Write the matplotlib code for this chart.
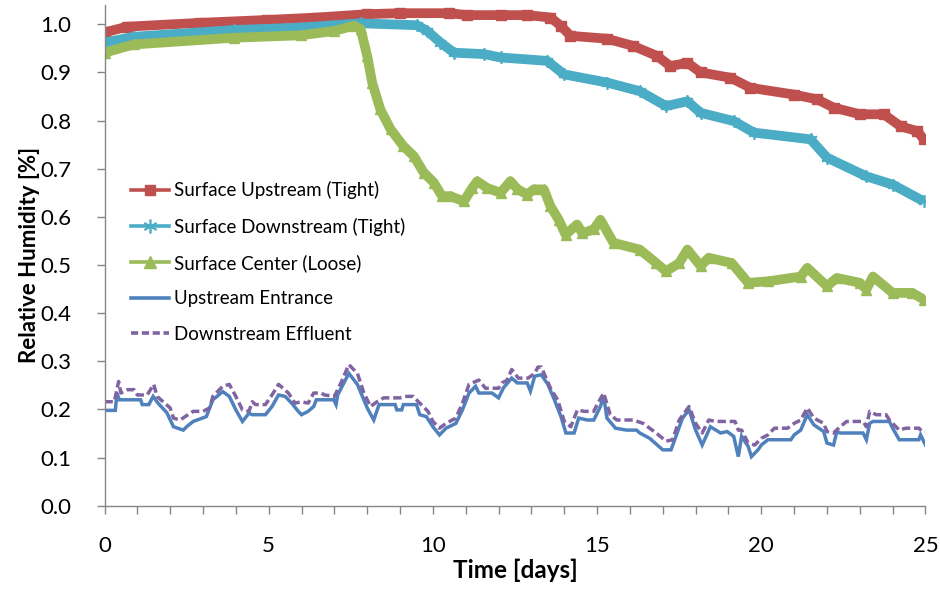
import matplotlib
matplotlib.use("Agg")
import matplotlib.pyplot as plt
from matplotlib.lines import Line2D
from matplotlib.ticker import MultipleLocator, FormatStrFormatter

plt.rcParams['font.family'] = ['Lato', 'DejaVu Sans']

# ---- data: time [days] and relative humidity [-] ----
upstream_t = [0.0, 0.69, 2.92, 4.95, 6.48, 8.0, 9.01, 10.5, 11.04, 12.06, 12.87, 13.58,
              13.89, 14.19, 15.3, 16.1, 16.83, 17.23, 17.75, 18.15, 19.06, 19.67, 20.99,
              21.7, 22.2, 23.0, 23.73, 24.24, 24.75, 24.95]
upstream_rh = [0.983, 0.995, 1.003, 1.009, 1.014, 1.021, 1.023, 1.023, 1.019, 1.019, 1.019, 1.014,
               0.997, 0.976, 0.970, 0.955, 0.934, 0.913, 0.920, 0.900, 0.889, 0.868, 0.854,
               0.844, 0.827, 0.813, 0.813, 0.788, 0.778, 0.761]

downstream_t = [0.0, 0.89, 3.94, 5.97, 7.8, 9.52, 9.83, 10.23, 10.64, 11.55, 12.06, 13.48,
                13.99, 15.3, 16.3, 17.1, 17.75, 18.15, 19.16, 19.77, 21.5, 22.0, 23.2, 24.0, 24.95]
downstream_rh = [0.962, 0.974, 0.988, 0.993, 1.002, 0.998, 0.986, 0.962, 0.941, 0.938, 0.931, 0.924,
                 0.896, 0.879, 0.861, 0.830, 0.840, 0.816, 0.799, 0.775, 0.761, 0.723, 0.684, 0.667, 0.632]

center_t = [0.0, 0.89, 3.94, 5.97, 6.99, 7.59, 7.8, 8.0, 8.15, 8.4, 8.71, 9.1, 9.42, 9.72,
            10.03, 10.28, 10.54, 10.94, 11.2, 11.35, 11.65, 12.06, 12.36, 12.57, 12.87, 13.07,
            13.38, 13.58, 13.83, 14.04, 14.39, 14.55, 14.9, 15.1, 15.5, 16.3, 16.8, 17.1, 17.5,
            17.75, 18.15, 18.4, 19.1, 19.6, 20.2, 21.2, 21.4, 22.0, 22.3, 23.0, 23.2, 23.4,
            24.0, 24.6, 24.95]
center_rh = [0.941, 0.958, 0.972, 0.977, 0.986, 0.997, 0.990, 0.934, 0.879, 0.823, 0.782, 0.747,
             0.726, 0.692, 0.671, 0.643, 0.643, 0.632, 0.660, 0.674, 0.660, 0.650, 0.674, 0.658,
             0.646, 0.657, 0.657, 0.622, 0.594, 0.563, 0.584, 0.566, 0.574, 0.594, 0.546, 0.532,
             0.504, 0.487, 0.504, 0.532, 0.498, 0.515, 0.504, 0.463, 0.466, 0.476, 0.494, 0.456,
             0.473, 0.463, 0.449, 0.476, 0.442, 0.442, 0.428]

entrance_t = [0.0, 0.33, 0.38, 0.45, 1.1, 1.15, 1.35, 1.48, 1.63, 1.9, 2.1, 2.4, 2.5, 2.7, 3.1,
              3.3, 3.6, 3.8, 4.0, 4.2, 4.4, 4.5, 4.9, 5.1, 5.3, 5.5, 5.7, 5.9, 6.0, 6.2, 6.37,
              6.45, 6.98, 7.05, 7.1, 7.44, 7.7, 8.0, 8.2, 8.36, 8.85, 8.9, 9.05, 9.1, 9.5, 9.6,
              9.8, 10.0, 10.2, 10.4, 10.7, 10.9, 11.1, 11.3, 11.4, 11.8, 12.0, 12.15, 12.4, 12.57,
              12.87, 12.97, 13.1, 13.3, 13.5, 13.7, 13.9, 14.05, 14.3, 14.44, 14.7, 14.9, 15.1,
              15.2, 15.3, 15.56, 15.9, 16.2, 16.3, 16.6, 17.0, 17.25, 17.4, 17.6, 17.8, 18.0,
              18.2, 18.45, 18.76, 18.96, 19.16, 19.3, 19.4, 19.6, 19.7, 19.9, 20.0, 20.2, 20.9,
              21.0, 21.2, 21.4, 21.6, 21.9, 22.0, 22.2, 22.3, 22.4, 23.1, 23.2, 23.3, 23.4, 23.9,
              24.0, 24.2, 24.8, 24.85, 25.0]
entrance_rh = [0.198, 0.198, 0.234, 0.220, 0.220, 0.210, 0.210, 0.227, 0.213, 0.193, 0.164, 0.157,
               0.164, 0.175, 0.185, 0.220, 0.237, 0.227, 0.199, 0.175, 0.192, 0.189, 0.189, 0.206,
               0.230, 0.227, 0.213, 0.196, 0.189, 0.196, 0.206, 0.220, 0.220, 0.210, 0.230, 0.275,
               0.252, 0.203, 0.178, 0.210, 0.210, 0.199, 0.199, 0.210, 0.210, 0.189, 0.185, 0.164,
               0.147, 0.161, 0.171, 0.199, 0.234, 0.248, 0.234, 0.234, 0.224, 0.245, 0.265, 0.255,
               0.255, 0.238, 0.269, 0.272, 0.252, 0.220, 0.185, 0.151, 0.151, 0.182, 0.178, 0.178,
               0.206, 0.227, 0.182, 0.161, 0.157, 0.157, 0.151, 0.140, 0.116, 0.116, 0.144, 0.182,
               0.199, 0.157, 0.126, 0.164, 0.151, 0.154, 0.144, 0.102, 0.144, 0.123, 0.102, 0.116,
               0.126, 0.137, 0.137, 0.147, 0.157, 0.189, 0.168, 0.154, 0.130, 0.126, 0.154, 0.151,
               0.151, 0.137, 0.171, 0.175, 0.175, 0.161, 0.137, 0.137, 0.147, 0.126]

effluent_t = [0.0, 0.3, 0.43, 0.5, 0.7, 0.9, 1.0, 1.3, 1.5, 1.6, 2.0, 2.1, 2.3, 2.7, 3.0, 3.2,
              3.3, 3.6, 3.8, 4.0, 4.2, 4.4, 4.5, 4.6, 4.9, 5.1, 5.3, 5.6, 5.8, 6.0, 6.2, 6.37,
              6.6, 6.7, 7.0, 7.2, 7.44, 7.7, 7.9, 8.1, 8.3, 8.5, 9.0, 9.2, 9.4, 9.6, 9.85, 10.0,
              10.2, 10.4, 10.7, 10.9, 11.1, 11.4, 11.6, 12.0, 12.1, 12.25, 12.4, 12.6, 12.9, 13.1,
              13.2, 13.3, 13.6, 13.8, 14.0, 14.2, 14.4, 14.6, 14.9, 15.0, 15.2, 15.4, 15.6, 16.1,
              16.4, 16.8, 17.1, 17.3, 17.5, 17.8, 18.0, 18.2, 18.4, 18.6, 19.2, 19.3, 19.4, 19.6,
              19.8, 20.0, 20.2, 20.4, 20.8, 21.0, 21.2, 21.4, 21.6, 21.9, 22.0, 22.2, 22.4, 22.6,
              23.1, 23.2, 23.3, 23.5, 23.8, 23.9, 24.2, 24.4, 24.8, 24.9, 25.0]
effluent_rh = [0.216, 0.216, 0.258, 0.234, 0.241, 0.241, 0.230, 0.230, 0.252, 0.227, 0.203, 0.182,
               0.178, 0.196, 0.196, 0.203, 0.227, 0.248, 0.252, 0.227, 0.199, 0.196, 0.216, 0.210,
               0.210, 0.230, 0.252, 0.234, 0.213, 0.216, 0.213, 0.234, 0.234, 0.230, 0.227, 0.255,
               0.293, 0.275, 0.234, 0.206, 0.216, 0.224, 0.224, 0.227, 0.227, 0.213, 0.196, 0.175,
               0.161, 0.171, 0.182, 0.213, 0.252, 0.261, 0.244, 0.244, 0.255, 0.260, 0.283, 0.265,
               0.265, 0.275, 0.288, 0.288, 0.241, 0.220, 0.175, 0.164, 0.199, 0.196, 0.196, 0.210,
               0.234, 0.189, 0.178, 0.178, 0.171, 0.151, 0.134, 0.137, 0.178, 0.206, 0.171, 0.151,
               0.178, 0.175, 0.175, 0.157, 0.157, 0.130, 0.126, 0.140, 0.147, 0.161, 0.161, 0.171,
               0.178, 0.203, 0.182, 0.171, 0.154, 0.151, 0.164, 0.175, 0.175, 0.164, 0.196, 0.189,
               0.189, 0.178, 0.157, 0.161, 0.161, 0.154, 0.154]

labels = ["Surface Upstream (Tight)", "Surface Downstream (Tight)", "Surface Center (Loose)",
          "Upstream Entrance", "Downstream Effluent"]
colors = ["#C0504D", "#4BACC6", "#9BBB59", "#4F81BD", "#8064A2"]

# ---- figure ----
fig = plt.figure(figsize=(9.4, 5.89), dpi=100)
ax = fig.add_axes([104.5 / 940, 83.3 / 589, 821 / 940, 500.7 / 589])

asterisk = (6, 2, 0)
ax.plot(upstream_t, upstream_rh, color=colors[0], lw=7, marker='s', ms=7,
        solid_joinstyle='round', solid_capstyle='butt')
ax.plot(downstream_t, downstream_rh, color=colors[1], lw=7, marker=asterisk, ms=9, mew=1.2,
        solid_joinstyle='round', solid_capstyle='butt')
ax.plot(center_t, center_rh, color=colors[2], lw=7, marker='^', ms=7,
        solid_joinstyle='round', solid_capstyle='butt')
ax.plot(entrance_t, entrance_rh, color=colors[3], lw=2.5, solid_joinstyle='miter')
ax.plot(effluent_t, effluent_rh, color=colors[4], lw=2.5, dashes=(2.4, 1.1))

ax.set_xlim(0, 25)
ax.set_ylim(0, 1.04)

axis_gray = "#868686"
for side in ("top", "right"):
    ax.spines[side].set_visible(False)
for side in ("left", "bottom"):
    ax.spines[side].set_color(axis_gray)
    ax.spines[side].set_linewidth(1.0)

ax.xaxis.set_major_locator(MultipleLocator(5))
ax.xaxis.set_minor_locator(MultipleLocator(1))
ax.yaxis.set_major_locator(MultipleLocator(0.1))
ax.yaxis.set_major_formatter(FormatStrFormatter('%.1f'))
ax.tick_params(axis='both', which='both', direction='out', color=axis_gray, width=1.0,
               length=6, labelsize=16, labelcolor='black')
ax.tick_params(axis='x', which='major', pad=16)
ax.tick_params(axis='y', which='major', pad=18)

ax.set_xlabel("Time [days]", fontsize=17.5, fontweight='bold')
ax.set_ylabel("Relative Humidity [%]", fontsize=16, fontweight='bold')
ax.xaxis.set_label_coords(0.5, -0.106)
ax.yaxis.set_label_coords(-0.078, 0.5)

handles = [
    Line2D([], [], color=colors[0], lw=2.6, marker='s', ms=7),
    Line2D([], [], color=colors[1], lw=2.6, marker=asterisk, ms=10, mew=1.2),
    Line2D([], [], color=colors[2], lw=2.6, marker='^', ms=9),
    Line2D([], [], color=colors[3], lw=2.6),
    Line2D([], [], color=colors[4], lw=2.6, dashes=(2.0, 1.0)),
]
fig.legend(handles, labels, loc='upper left', bbox_to_anchor=(131 / 940, 1 - 181 / 589),
           frameon=False, fontsize=13.5, numpoints=1, handlelength=2.0, handletextpad=0.3,
           labelspacing=0.98, borderpad=0, borderaxespad=0)

fig.savefig("out.png", dpi=100)
